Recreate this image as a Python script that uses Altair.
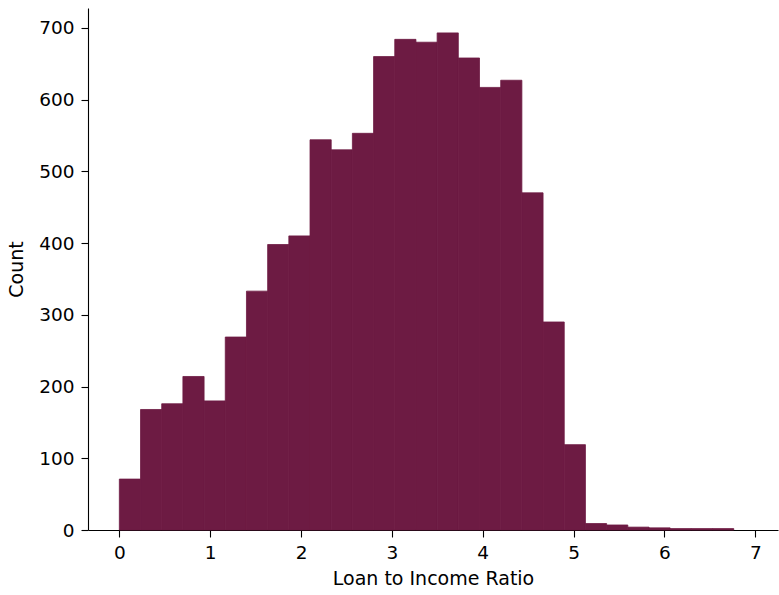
import altair as alt
import pandas as pd

# Histogram of loan-to-income ratio: 29 equal-width bins starting at 0
bin_width = 0.2332
counts = [71, 168, 176, 214, 180, 269, 333, 398, 410, 544,
          530, 553, 660, 684, 680, 693, 658, 617, 627, 470,
          290, 119, 9, 7, 4, 3, 2, 2, 2]

x_ticks = [0, 1, 2, 3, 4, 5, 6, 7]
y_ticks = [0, 100, 200, 300, 400, 500, 600, 700]

df = pd.DataFrame({
    "bin_start": [i * bin_width for i in range(len(counts))],
    "bin_end": [(i + 1) * bin_width for i in range(len(counts))],
    "count": counts,
})

font = "DejaVu Sans"
bar_color = "#6d1b43"

chart = (
    alt.Chart(df)
    # a thin same-colour stroke closes the anti-aliasing seams between bins
    .mark_rect(color=bar_color, stroke=bar_color, strokeWidth=0.8)
    .encode(
        x=alt.X(
            "bin_start:Q",
            title="Loan to Income Ratio",
            scale=alt.Scale(domain=[-0.345, 7.25], nice=False, zero=False),
            axis=alt.Axis(values=x_ticks, format="d", labelAngle=0,
                          labelPadding=6, titlePadding=8),
        ),
        x2="bin_end:Q",
        y=alt.Y(
            "count:Q",
            title="Count",
            scale=alt.Scale(domain=[0, 727.7], nice=False),
            axis=alt.Axis(values=y_ticks, labelPadding=7, titlePadding=12),
        ),
        y2=alt.datum(0),
    )
    .properties(
        width=690,
        height=522,
        autosize=alt.AutoSizeParams(type="none"),
        padding={"left": 88, "top": 8, "right": 1, "bottom": 65},
    )
    .configure_view(stroke=None)
    .configure_axis(
        grid=False,
        domainColor="black",
        domainWidth=1.1,
        tickColor="black",
        tickWidth=1.1,
        tickSize=7,
        labelFont=font,
        labelFontSize=18.5,
        labelColor="black",
        titleFont=font,
        titleFontSize=19,
        titleFontWeight="normal",
        titleColor="black",
    )
)

chart.save("out.html", embed_options={"renderer": "svg", "actions": False})
